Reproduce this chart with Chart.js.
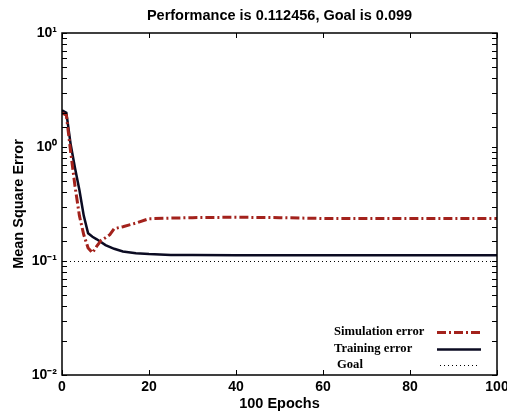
<!DOCTYPE html>
<html>
<head>
<meta charset="utf-8">
<script src="https://cdn.jsdelivr.net/npm/chart.js@4.4.0/dist/chart.umd.min.js"></script>
<style>
  html, body { margin: 0; padding: 0; background: #fff; }
  #wrap { width: 507px; height: 414px; }
</style>
</head>
<body>
<div id="wrap"><canvas id="c"></canvas></div>
<script>
// values
const chartTitle = 'Performance is 0.112456, Goal is 0.099';
const trainEpochs = [0, 1, 2, 3, 4, 5, 6, 7, 8, 10, 12, 14, 17, 20, 25, 30, 40, 50, 60, 70, 80, 90, 100];
const trainError  = [2.1, 2.0, 1.05, 0.65, 0.42, 0.25, 0.175, 0.163, 0.155, 0.138, 0.128, 0.121, 0.117, 0.115, 0.113, 0.1126, 0.1125, 0.1125, 0.1125, 0.1125, 0.1125, 0.1125, 0.1125];
const simEpochs = [0, 1, 2, 3, 4, 5, 6, 7, 8, 9, 10, 11, 12, 14, 17, 20, 25, 30, 40, 50, 60, 70, 80, 90, 100];
const simError  = [2.0, 1.9, 0.9, 0.45, 0.25, 0.17, 0.13, 0.118, 0.135, 0.152, 0.16, 0.17, 0.192, 0.2, 0.215, 0.235, 0.238, 0.24, 0.242, 0.24, 0.236, 0.236, 0.236, 0.236, 0.236];
const goalValue = 0.099;
const xTicks = [0, 20, 40, 60, 80, 100];
const seriesNames = ['Simulation error', 'Training error', 'Goal'];

const sup = {'-': '\u207B', '0': '\u2070', '1': '\u00B9', '2': '\u00B2'};
const pow10Label = (e) => '10' + String(e).split('').map(ch => sup[ch]).join('');

const toPoints = (xs, ys) => xs.map((x, i) => ({x: x, y: ys[i]}));
const sans = '"Liberation Sans", Arial, sans-serif';

// inward ticks, box, title and legend like the original figure
const frame = {
  id: 'frame',
  afterDraw (chart) {
    const ctx = chart.ctx;
    const a = chart.chartArea;
    const xs = chart.scales.x, ys = chart.scales.y;
    ctx.save();
    ctx.strokeStyle = '#000';
    ctx.lineWidth = 1;
    ctx.beginPath();
    ys.ticks.forEach(t => {
      const y = Math.round(ys.getPixelForValue(t.value)) + 0.5;
      ctx.moveTo(a.left, y); ctx.lineTo(a.left + 5, y);
      ctx.moveTo(a.right, y); ctx.lineTo(a.right - 5, y);
    });
    xTicks.forEach(v => {
      const x = Math.round(xs.getPixelForValue(v)) + 0.5;
      ctx.moveTo(x, a.bottom); ctx.lineTo(x, a.bottom - 5);
      ctx.moveTo(x, a.top); ctx.lineTo(x, a.top + 5);
    });
    ctx.stroke();
    ctx.lineWidth = 1.5;
    ctx.strokeRect(a.left, a.top, a.right - a.left, a.bottom - a.top);

    // title
    ctx.fillStyle = '#000';
    ctx.font = 'bold 14.5px ' + sans;
    ctx.textAlign = 'center';
    ctx.textBaseline = 'middle';
    ctx.fillText(chartTitle, (a.left + a.right) / 2, 16);

    // legend
    ctx.font = 'bold 12.6px "Liberation Serif", "Times New Roman", serif';
    ctx.textAlign = 'left';
    const rows = [332, 349, 365];
    const styles = chart.data.datasets;
    rows.forEach((y, i) => {
      ctx.fillStyle = '#000';
      ctx.fillText(seriesNames[i], 334 + (i === 2 ? 3 : 0), y);
      const ds = styles[i];
      ctx.beginPath();
      ctx.strokeStyle = ds.borderColor;
      ctx.lineWidth = ds.borderWidth;
      ctx.setLineDash(ds.borderDash || []);
      ctx.moveTo(i === 2 ? 440 : 437, y + 0.5);
      ctx.lineTo(i === 2 ? 477 : 481, y + 0.5);
      ctx.stroke();
    });
    ctx.restore();
  }
};

new Chart(document.getElementById('c'), {
  type: 'line',
  data: {
    datasets: [
      {
        label: seriesNames[0],
        data: toPoints(simEpochs, simError),
        borderColor: '#a3221c',
        borderWidth: 3,
        borderDash: [9, 3, 2, 3],
        pointRadius: 0,
        tension: 0
      },
      {
        label: seriesNames[1],
        data: toPoints(trainEpochs, trainError),
        borderColor: '#0b0b22',
        borderWidth: 2.5,
        pointRadius: 0,
        tension: 0
      },
      {
        label: seriesNames[2],
        data: toPoints([0, 100], [goalValue, goalValue]),
        borderColor: '#000',
        borderWidth: 1,
        borderDash: [1, 3],
        pointRadius: 0
      }
    ]
  },
  options: {
    responsive: true,
    maintainAspectRatio: false,
    animation: false,
    layout: { padding: { top: 33, right: 10, left: 8, bottom: 0 } },
    plugins: {
      legend: { display: false },
      tooltip: { enabled: false },
      title: { display: false }
    },
    scales: {
      x: {
        type: 'linear',
        min: 0,
        max: 100,
        afterBuildTicks (scale) { scale.ticks = xTicks.map(v => ({value: v})); },
        afterFit (scale) {
          scale.height = 39;
          scale.paddingLeft = 0;
          scale.paddingRight = 0;
        },
        grid: { display: false, drawTicks: false },
        border: { display: false },
        ticks: {
          color: '#000',
          padding: 4,
          maxRotation: 0,
          font: { family: sans, size: 14, weight: 'bold' }
        },
        title: {
          display: true,
          text: '100 Epochs',
          color: '#000',
          padding: { top: 0, bottom: 1 },
          font: { family: sans, size: 14.5, weight: 'bold' }
        }
      },
      y: {
        type: 'logarithmic',
        min: 0.01,
        max: 10,
        afterFit (scale) {
          scale.width = 54;
          scale.paddingTop = 0;
          scale.paddingBottom = 0;
        },
        grid: { display: false, drawTicks: false },
        border: { display: false },
        ticks: {
          color: '#000',
          padding: 5,
          autoSkip: false,
          font: { family: sans, size: 14, weight: 'bold' },
          callback (v) {
            const e = Math.log10(v);
            if (Math.abs(e - Math.round(e)) < 1e-9) return pow10Label(Math.round(e));
            return '';
          }
        },
        title: {
          display: true,
          text: 'Mean Square Error',
          color: '#000',
          padding: { top: 2, bottom: 0 },
          font: { family: sans, size: 14.5, weight: 'bold' }
        }
      }
    }
  },
  plugins: [frame]
});
</script>
</body>
</html>
